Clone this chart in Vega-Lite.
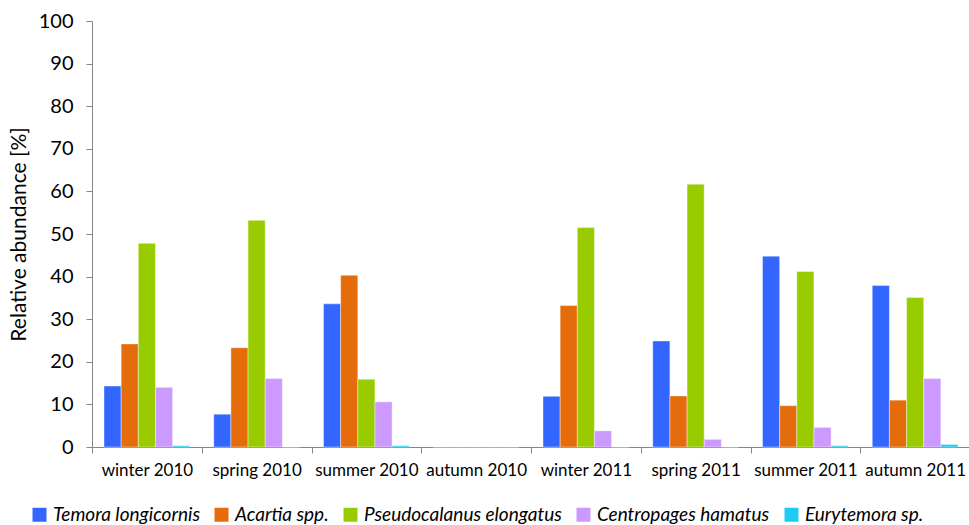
{
  "$schema": "https://vega.github.io/schema/vega-lite/v6.json",
  "autosize": "none",
  "width": 878,
  "height": 426,
  "padding": {"left": 92, "top": 21, "right": 0, "bottom": 78},
  "background": "white",
  "config": {"view": {"stroke": null}, "font": "Lato"},
  "data": {"values": [
    {"season": "winter 2010", "species": "Temora longicornis", "value": 14.3},
    {"season": "winter 2010", "species": "Acartia spp.", "value": 24.2},
    {"season": "winter 2010", "species": "Pseudocalanus elongatus", "value": 47.8},
    {"season": "winter 2010", "species": "Centropages hamatus", "value": 14.0},
    {"season": "winter 2010", "species": "Eurytemora sp.", "value": 0.3},
    {"season": "spring 2010", "species": "Temora longicornis", "value": 7.7},
    {"season": "spring 2010", "species": "Acartia spp.", "value": 23.3},
    {"season": "spring 2010", "species": "Pseudocalanus elongatus", "value": 53.2},
    {"season": "spring 2010", "species": "Centropages hamatus", "value": 16.1},
    {"season": "spring 2010", "species": "Eurytemora sp.", "value": 0},
    {"season": "summer 2010", "species": "Temora longicornis", "value": 33.6},
    {"season": "summer 2010", "species": "Acartia spp.", "value": 40.3},
    {"season": "summer 2010", "species": "Pseudocalanus elongatus", "value": 15.9},
    {"season": "summer 2010", "species": "Centropages hamatus", "value": 10.6},
    {"season": "summer 2010", "species": "Eurytemora sp.", "value": 0.3},
    {"season": "autumn 2010", "species": "Temora longicornis", "value": 0},
    {"season": "autumn 2010", "species": "Acartia spp.", "value": 0},
    {"season": "autumn 2010", "species": "Pseudocalanus elongatus", "value": 0},
    {"season": "autumn 2010", "species": "Centropages hamatus", "value": 0},
    {"season": "autumn 2010", "species": "Eurytemora sp.", "value": 0},
    {"season": "winter 2011", "species": "Temora longicornis", "value": 11.9},
    {"season": "winter 2011", "species": "Acartia spp.", "value": 33.2},
    {"season": "winter 2011", "species": "Pseudocalanus elongatus", "value": 51.5},
    {"season": "winter 2011", "species": "Centropages hamatus", "value": 3.8},
    {"season": "winter 2011", "species": "Eurytemora sp.", "value": 0},
    {"season": "spring 2011", "species": "Temora longicornis", "value": 24.9},
    {"season": "spring 2011", "species": "Acartia spp.", "value": 12.0},
    {"season": "spring 2011", "species": "Pseudocalanus elongatus", "value": 61.7},
    {"season": "spring 2011", "species": "Centropages hamatus", "value": 1.8},
    {"season": "spring 2011", "species": "Eurytemora sp.", "value": 0},
    {"season": "summer 2011", "species": "Temora longicornis", "value": 44.8},
    {"season": "summer 2011", "species": "Acartia spp.", "value": 9.7},
    {"season": "summer 2011", "species": "Pseudocalanus elongatus", "value": 41.2},
    {"season": "summer 2011", "species": "Centropages hamatus", "value": 4.6},
    {"season": "summer 2011", "species": "Eurytemora sp.", "value": 0.3},
    {"season": "autumn 2011", "species": "Temora longicornis", "value": 37.9},
    {"season": "autumn 2011", "species": "Acartia spp.", "value": 11.0},
    {"season": "autumn 2011", "species": "Pseudocalanus elongatus", "value": 35.1},
    {"season": "autumn 2011", "species": "Centropages hamatus", "value": 16.1},
    {"season": "autumn 2011", "species": "Eurytemora sp.", "value": 0.6}
  ]},
  "mark": {"type": "bar", "stroke": "white", "strokeOpacity": 0.5, "strokeWidth": 0.8},
  "encoding": {
    "x": {
      "field": "season", "type": "nominal", "sort": null,
      "scale": {"paddingInner": 0, "paddingOuter": 0},
      "axis": {
        "title": null, "labelAngle": 0, "labelFontSize": 17, "labelColor": "black",
        "labelPadding": 9, "domainColor": "#868686", "tickColor": "#868686",
        "tickBand": "extent", "tickSize": 6, "labelOverlap": false
      }
    },
    "xOffset": {
      "field": "species", "type": "nominal", "sort": null,
      "scale": {"paddingInner": 0, "paddingOuter": 0.7}
    },
    "y": {
      "field": "value", "type": "quantitative",
      "scale": {"domain": [0, 100], "nice": false},
      "axis": {
        "title": "Relative abundance [%]", "titleFontSize": 21, "titleFontWeight": "normal",
        "titleColor": "black", "titlePadding": 9, "values": [0,10,20,30,40,50,60,70,80,90,100],
        "labelFontSize": 20, "labelColor": "black", "labelPadding": 13, "grid": false,
        "labelOverlap": false,
        "domainColor": "#868686", "tickColor": "#868686", "tickSize": 6
      }
    },
    "color": {
      "field": "species", "type": "nominal", "sort": null,
      "scale": {
        "domain": ["Temora longicornis", "Acartia spp.", "Pseudocalanus elongatus", "Centropages hamatus", "Eurytemora sp."],
        "range": ["#3366FF", "#E46C0A", "#99CC00", "#CC99FF", "#1ECBF5"]
      },
      "legend": {
        "title": null, "orient": "none", "direction": "horizontal",
        "legendX": -62, "legendY": 484,
        "symbolType": "square", "symbolSize": 196, "symbolStrokeWidth": 0,
        "labelFontSize": 19, "labelFontStyle": "italic", "labelColor": "black",
        "columnPadding": 12, "labelOffset": 4, "labelLimit": 300
      }
    }
  }
}
